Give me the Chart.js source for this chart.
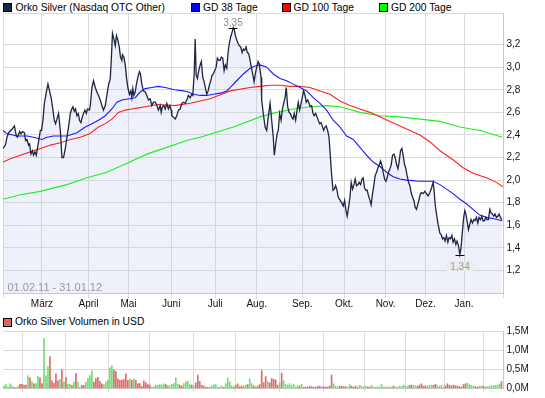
<!DOCTYPE html>
<html>
<head>
<meta charset="utf-8">
<script src="https://cdn.jsdelivr.net/npm/chart.js@4.4.1/dist/chart.umd.min.js"></script>
<style>
  body { margin: 0; background: #fff; width: 545px; height: 398px; position: relative; overflow: hidden; font-family: "Liberation Sans", Arial, sans-serif; }
  .bx { position: absolute; width: 7px; height: 7px; border: 1px solid #000; }
  .tx { position: absolute; font-size: 10.3px; line-height: 12px; color: #000; white-space: nowrap; }
  canvas { position: absolute; left: 0; }
  #kurs { top: 0; }
  #vol { top: 312px; }
</style>
</head>
<body>
<div class="bx" style="left:3px;top:3px;background:#1c2545"></div><div class="tx" style="left:15.5px;top:1.5px">Orko Silver (Nasdaq OTC Other)</div>
<div class="bx" style="left:191px;top:3px;background:#0000ff"></div><div class="tx" style="left:203px;top:1.5px">GD 38 Tage</div>
<div class="bx" style="left:282px;top:3px;background:#ff0000"></div><div class="tx" style="left:293.5px;top:1.5px">GD 100 Tage</div>
<div class="bx" style="left:379px;top:3px;background:#00ff00"></div><div class="tx" style="left:391px;top:1.5px">GD 200 Tage</div>
<div class="bx" style="left:3px;top:318px;background:#e06464"></div><div class="tx" style="left:15px;top:316px">Orko Silver Volumen in USD</div>

<canvas id="kurs" width="545" height="312"></canvas>
<canvas id="vol" width="545" height="86"></canvas>

<script>
// Handelstage seit 01.02.11 (x), Kurs in USD (y)
const monthPos = [19.5, 42.8, 62.8, 84.2, 106.2, 127, 149.8, 170.8, 191.5, 211.5, 230.8];
const monthLbl = ['März', 'April', 'Mai', 'Juni', 'Juli', 'Aug.', 'Sep.', 'Okt.', 'Nov.', 'Dez.', 'Jan.'];
const priceTicks = [1.2, 1.4, 1.6, 1.8, 2.0, 2.2, 2.4, 2.6, 2.8, 3.0, 3.2];
const volTicks = [0, 0.5, 1.0, 1.5];
const dateRange = '01.02.11 - 31.01.12';

const priceX = [0,1.2,2,2.8,4.5,5.7,6.7,7.3,8.3,9,9.7,10.7,11.3,12,12.8,13.3,14,14.7,15.3,16,16.7,17.3,18,18.7,19.3,20,20.7,21.7,22.5,23.3,24.2,25,25.7,26.3,27,27.8,28.7,29.5,30.3,31.2,32,32.8,33.7,34.2,35,35.7,36.3,37,37.7,38.3,39,39.7,40.3,41,41.7,42.3,43.3,43.7,44.5,45.3,46.2,47,47.8,48.7,49.5,50.3,51.2,52,52.8,53.7,54.2,54.8,55.5,56.2,56.8,57.5,58.2,58.8,59.5,59.8,60.5,61.2,61.8,62.5,63.3,64,64.5,65,65.5,66.2,66.7,67.5,68.3,68.8,69.5,70.3,71.2,72,72.8,73.7,74.5,75.3,76.2,77,77.8,78.7,79.2,79.8,80.5,81.2,82,82.8,83.5,84.2,84.5,85.3,86.2,87,87.8,88.7,89.5,90.3,91.2,92,92.8,93.7,94.5,95,95.7,96.2,96.7,97.3,98,98.7,99.3,100,100.7,101.3,102,102.7,103.3,104,104.7,105.3,106,106.7,107.3,108,108.7,109.3,110,110.7,111.3,112,112.8,113.3,114,114.7,115.3,115.8,116.3,117,117.7,118.3,119,119.7,120.3,121,121.7,122.3,123,123.7,124.3,125,125.7,126.3,127,127.7,128.3,128.7,129.2,129.5,130.3,131.2,132,132.8,133.7,134.5,135.3,135.8,136.5,137.2,137.8,138.5,139.2,139.8,140.5,141.2,141.8,142.5,143.2,143.8,144.5,145.2,145.8,146.5,147.2,147.8,148.5,149.2,149.8,150.5,151.2,151.8,152.5,153.2,153.8,154.5,155.2,155.8,156.5,157.2,157.8,158.5,159.2,159.8,160.5,161.2,161.8,162.5,163.2,163.8,164.5,165.2,165.8,166.5,167.2,167.8,168.5,169.5,170.3,171,171.7,172.3,173,173.7,174.3,175,175.7,176.3,177,177.7,178.3,179,179.7,180.3,181,181.7,182.3,183,183.7,184.3,185,185.7,186.3,187,187.7,188.3,189,189.7,190.3,191,191.7,192.3,193,193.7,194.3,195,195.7,196.3,197,197.7,198.3,199,199.7,200.3,201,201.7,202.3,203,203.7,204.3,205,205.7,206.3,207,207.7,208.3,209,209.5,210.3,211.2,212,212.8,213.7,214.5,215.3,215.8,216.3,217,217.8,218.7,219.3,220,220.7,221.3,222,222.7,223.3,224,224.7,225.3,226,226.7,227.3,228,228.7,229.3,230,230.7,231.2,231.7,232.3,233,233.7,234.3,235,235.7,236.3,237,237.7,238.3,239,239.7,240.3,241,241.7,242.3,243,243.7,244.3,245,245.7,246.3,247,247.7,248.3,249,249.7];
const priceY = [2.28,2.31,2.38,2.42,2.45,2.48,2.39,2.38,2.43,2.41,2.43,2.42,2.35,2.36,2.31,2.32,2.23,2.26,2.22,2.25,2.22,2.29,2.36,2.44,2.44,2.53,2.68,2.78,2.85,2.79,2.72,2.62,2.53,2.50,2.54,2.59,2.44,2.20,2.20,2.28,2.38,2.47,2.59,2.62,2.65,2.61,2.63,2.57,2.59,2.53,2.51,2.56,2.59,2.62,2.59,2.63,2.62,2.66,2.82,2.88,2.82,2.78,2.75,2.71,2.66,2.62,2.66,2.75,2.84,2.90,3.06,3.30,3.25,3.19,3.28,3.24,3.18,3.09,3.06,3.11,3.09,3.02,2.91,2.82,2.76,2.79,2.73,2.81,2.75,2.78,2.84,2.91,2.96,2.94,2.85,2.79,2.78,2.75,2.71,2.72,2.66,2.69,2.69,2.66,2.62,2.66,2.60,2.65,2.66,2.63,2.68,2.63,2.66,2.62,2.57,2.56,2.54,2.57,2.62,2.63,2.68,2.69,2.68,2.71,2.75,2.73,2.76,2.75,2.94,3.25,2.93,2.90,2.97,3.02,3.05,2.91,2.87,2.82,2.76,2.79,2.84,2.88,2.93,2.94,2.97,3.00,3.08,3.06,3.06,3.09,3.08,2.97,3.02,2.99,3.15,3.21,3.27,3.31,3.35,3.33,3.28,3.24,3.21,3.19,3.18,3.13,3.16,3.15,3.18,3.13,3.12,3.06,3.00,2.94,2.87,2.94,3.00,3.05,3.03,2.97,2.91,2.71,2.59,2.47,2.44,2.56,2.68,2.53,2.38,2.22,2.32,2.41,2.44,2.59,2.53,2.62,2.68,2.73,2.82,2.65,2.60,2.59,2.56,2.54,2.59,2.53,2.62,2.69,2.62,2.68,2.73,2.79,2.75,2.69,2.71,2.68,2.65,2.66,2.59,2.57,2.59,2.56,2.53,2.50,2.51,2.48,2.44,2.47,2.48,2.44,2.38,2.23,2.05,1.91,1.92,1.95,1.91,1.85,1.83,1.80,1.77,1.82,1.73,1.68,1.76,1.85,1.98,1.92,1.96,2.01,1.95,1.96,1.98,1.96,2.01,2.02,1.93,1.91,1.91,1.86,1.82,1.78,1.88,1.96,2.04,2.07,2.11,2.13,2.17,2.13,2.07,2.01,1.99,2.02,2.07,2.10,2.13,2.22,2.23,2.20,2.14,2.10,2.16,2.26,2.28,2.22,2.14,2.10,2.04,1.98,1.95,1.89,1.85,1.82,1.76,1.74,1.79,1.83,1.88,1.89,1.88,1.90,1.88,1.86,1.89,1.93,1.98,1.91,1.79,1.70,1.61,1.53,1.52,1.48,1.49,1.46,1.51,1.45,1.49,1.48,1.51,1.45,1.48,1.43,1.46,1.42,1.34,1.40,1.55,1.68,1.73,1.70,1.64,1.56,1.61,1.65,1.62,1.65,1.64,1.67,1.62,1.67,1.65,1.68,1.64,1.64,1.67,1.65,1.65,1.74,1.71,1.70,1.68,1.70,1.67,1.68,1.70,1.67,1.65];

const gd38X = [0,2,7,12,15.3,19.5,22,25.3,32,37,41.2,44.5,47.8,51.2,54.5,57,59.5,66.2,68.7,71.2,74.5,77.8,81.2,85.8,90.3,92.8,95.3,98.7,102,105.3,108.7,112,113.7,117,120.3,123.7,126.2,128.7,132,135.3,138.7,142,145.3,148.7,152,155.3,158.7,162,165.3,168.7,172,175.3,178.7,182,185.3,188.7,192,195.3,198.7,202,208.7,215.3,218.7,222,225.3,228.7,232,235.3,238.7,242,245.3,250];
const gd38Y = [2.44,2.41,2.39,2.39,2.38,2.36,2.38,2.39,2.39,2.42,2.47,2.50,2.53,2.57,2.63,2.69,2.71,2.73,2.78,2.81,2.82,2.83,2.82,2.80,2.79,2.78,2.76,2.75,2.75,2.76,2.77,2.79,2.82,2.88,2.94,2.99,3.01,3.02,3.00,2.94,2.90,2.88,2.85,2.82,2.79,2.73,2.68,2.62,2.53,2.47,2.39,2.36,2.29,2.22,2.16,2.12,2.07,2.03,2.01,2.00,1.99,1.99,1.96,1.92,1.88,1.83,1.79,1.74,1.69,1.67,1.66,1.64];

const gd100X = [0,3.7,8.7,13.7,18.7,23.7,28.7,33.7,38.7,43.3,47.8,51.2,54.5,57.8,61.2,64.5,67.8,71.2,74.5,77.8,85.8,93.7,103.7,113.7,123.7,128.7,133.7,138.7,143.7,148.7,153.7,158.7,163.7,168.7,173.7,178.7,183.7,188.7,193.7,198.7,203.7,208.7,213.7,218.7,225.3,230.3,235.3,242,247,250.2];
const gd100Y = [2.16,2.19,2.22,2.25,2.28,2.31,2.33,2.36,2.38,2.41,2.47,2.50,2.54,2.60,2.62,2.63,2.64,2.65,2.66,2.67,2.66,2.68,2.72,2.79,2.82,2.83,2.84,2.84,2.83,2.83,2.82,2.79,2.76,2.70,2.66,2.63,2.60,2.56,2.52,2.48,2.44,2.40,2.34,2.26,2.18,2.11,2.06,2.02,1.98,1.94];

const gd200X = [0,8.7,18.7,32,42,52,62,72,82,92,98.7,115.3,128.7,137,145.3,153.7,162,168.7,178.7,188.7,198.7,208.7,218.7,228.7,238.7,250];
const gd200Y = [1.83,1.87,1.90,1.96,2.02,2.07,2.15,2.23,2.29,2.35,2.38,2.47,2.56,2.60,2.63,2.65,2.66,2.65,2.60,2.57,2.56,2.54,2.52,2.47,2.44,2.38];

// Volumen in Tsd. USD je Handelstag, 1 = Kurs gestiegen (grün), 0 = gefallen (rot)
const volK = [70,100,40,120,70,30,20,60,110,110, 90,90,340,280,180,120,130,320,280,130,
  1300,330,570,830,200,140,380,200,240,490, 170,290,110,110,80,170,390,170,40,80,
  80,170,260,340,460,170,260,290,190,120, 100,170,210,540,600,490,440,250,210,220,
  230,380,210,250,210,250,210,130,130,50, 200,150,100,90,40,50,80,80,100,90,
  120,100,80,60,110,130,280,110,90,60, 130,180,190,100,90,60,150,350,190,80,
  60,40,30,40,60,90,110,40,40,70, 30,130,270,180,70,40,80,120,50,60,
  70,90,100,250,130,70,40,60,100,470, 150,310,180,150,260,240,220,90,150,400,
  200,110,90,130,80,100,50,70,60,110, 30,40,40,60,50,30,40,50,60,40,
  50,40,40,60,350,120,70,40,60,60, 50,50,40,100,60,40,60,40,80,60,
  40,60,40,40,80,40,40,50,40,110, 40,50,40,40,40,60,40,40,60,50,
  90,60,50,80,90,80,70,60,90,120, 60,70,60,80,90,80,110,70,60,80,
  40,70,120,80,60,90,70,60,50,40, 100,120,140,100,80,60,50,40,60,60,
  60,40,50,60,70,70,80,90,110,180];
const volUp = [1,1,1,1,1,0,0,1,0,0, 0,0,1,0,1,0,1,1,0,0,
  1,1,1,0,0,0,0,0,1,0, 1,0,1,1,0,1,0,1,1,0,
  0,1,1,1,1,0,0,0,0,0, 1,1,1,1,1,0,0,0,0,0,
  0,0,0,1,0,1,0,0,0,0, 0,0,0,0,1,1,1,1,1,1,
  1,0,1,1,1,1,1,1,0,0, 1,1,1,1,0,1,0,0,0,0,
  0,0,0,1,1,1,1,1,1,1, 0,1,1,1,1,0,0,0,0,0,
  1,1,0,1,1,0,0,0,0,0, 0,0,1,0,0,0,0,0,1,0,
  1,1,1,1,1,1,1,1,0,1, 0,0,0,0,0,0,0,0,0,0,
  0,0,0,0,0,1,1,1,0,0, 0,0,1,1,0,0,0,1,1,1,
  1,1,0,0,1,1,1,1,1,1, 1,1,1,1,1,0,1,1,1,1,
  1,1,1,0,0,1,1,0,0,0, 0,0,1,1,1,0,0,1,1,1,
  1,0,0,0,0,0,0,0,0,0, 0,0,1,1,1,1,0,0,1,1,
  0,0,1,1,1,1,1,1,1,0];

const xMax = 250.3;
const gridCol = '#dadada';
const axisFont = { family: '"Liberation Sans", Arial, sans-serif', size: 10 };
const de = (v, d) => v.toFixed(d).replace('.', ',');
const pts = (xs, ys) => xs.map((x, i) => ({ x: x, y: ys[i] }));

function monthTicks(scale) {
  scale.ticks = [0, ...monthPos, xMax].map(v => ({ value: v }));
}
function monthLabel(v, i) {
  return (i > 0 && i <= monthLbl.length) ? monthLbl[i - 1] : '';
}

// Hoch/Tief-Markierung und Zeitraum
const marks = {
  id: 'marks',
  afterDatasetsDraw(chart) {
    const { ctx, scales: { x, y }, chartArea } = chart;
    const hi = priceY.indexOf(Math.max(...priceY));
    const lo = priceY.indexOf(Math.min(...priceY));
    ctx.save();
    ctx.font = '10px "Liberation Sans", Arial, sans-serif';
    ctx.textAlign = 'center';
    ctx.strokeStyle = '#000';
    ctx.lineWidth = 1;

    let px = Math.round(x.getPixelForValue(priceX[hi])), py = Math.round(y.getPixelForValue(priceY[hi])) + 0.5;
    ctx.beginPath(); ctx.moveTo(px - 4.5, py); ctx.lineTo(px + 4.5, py); ctx.stroke();
    ctx.fillStyle = '#8a8a8a';
    ctx.textBaseline = 'alphabetic';
    ctx.fillText(de(priceY[hi], 2), px, py - 3);

    px = Math.round(x.getPixelForValue(priceX[lo])); py = Math.round(y.getPixelForValue(priceY[lo])) + 0.5;
    ctx.beginPath(); ctx.moveTo(px - 4.5, py); ctx.lineTo(px + 4.5, py); ctx.stroke();
    ctx.fillStyle = '#ececec';
    ctx.fillRect(px - 14, py + 5.5, 27, 10);
    ctx.fillStyle = '#9a9a9a';
    ctx.fillText(de(priceY[lo], 2), px, py + 14.5);

    ctx.textAlign = 'left';
    ctx.font = '11px "Liberation Sans", Arial, sans-serif';
    ctx.fillStyle = '#999';
    ctx.fillText(dateRange, chartArea.left + 4.5, chartArea.bottom - 2.3);
    ctx.restore();
  }
};

new Chart(document.getElementById('kurs'), {
  type: 'line',
  data: {
    datasets: [
      { data: pts(priceX, priceY), borderColor: '#1d2540', borderWidth: 1.3, fill: 'start', backgroundColor: 'rgba(190,200,235,0.25)' },
      { data: pts(gd38X, gd38Y), borderColor: '#1a1aff', borderWidth: 1.1, fill: false },
      { data: pts(gd100X, gd100Y), borderColor: '#ff2222', borderWidth: 1.1, fill: false },
      { data: pts(gd200X, gd200Y), borderColor: '#22ee22', borderWidth: 1.1, fill: false }
    ]
  },
  options: {
    responsive: false,
    animation: false,
    parsing: false,
    elements: { point: { radius: 0 }, line: { tension: 0 } },
    layout: { padding: { top: 13, left: 3, right: 0, bottom: 0 } },
    plugins: { legend: { display: false }, tooltip: { enabled: false }, filler: { drawTime: 'beforeDatasetsDraw' } },
    scales: {
      x: {
        type: 'linear', min: 0, max: xMax, offset: false,
        afterBuildTicks: monthTicks,
        afterFit: s => { s.height = 19; },
        grid: { color: gridCol, tickLength: 5 },
        border: { color: '#c8c8c8' },
        ticks: { callback: monthLabel, autoSkip: false, maxRotation: 0, padding: 0, color: '#111', font: axisFont }
      },
      y: {
        type: 'linear', position: 'right', min: 1.0, max: 3.48,
        afterBuildTicks: s => { s.ticks = [1.0, ...priceTicks, 3.48].map(v => ({ value: v })); },
        afterFit: s => { s.width = 42; },
        grid: { color: gridCol, drawTicks: false },
        border: { color: '#c8c8c8' },
        ticks: { callback: (v, i) => (i > 0 && i <= priceTicks.length) ? de(priceTicks[i - 1], 1) : '', padding: 3.5, color: '#111', font: axisFont }
      }
    }
  },
  plugins: [marks]
});

new Chart(document.getElementById('vol'), {
  type: 'bar',
  data: {
    datasets: [{
      data: volK.map((v, i) => ({ x: i + 0.5, y: v / 1000 })),
      backgroundColor: volUp.map(u => u ? '#6ee06e' : '#e06a6a'),
      barThickness: 1
    }]
  },
  options: {
    responsive: false,
    animation: false,
    parsing: false,
    layout: { padding: { top: 19, left: 3, right: 0, bottom: 0 } },
    plugins: { legend: { display: false }, tooltip: { enabled: false } },
    scales: {
      x: {
        type: 'linear', min: 0, max: xMax, offset: false,
        afterBuildTicks: monthTicks,
        afterFit: s => { s.height = 5; },
        grid: { color: gridCol, tickLength: 4 },
        border: { color: '#c8c8c8' },
        ticks: { display: false }
      },
      y: {
        type: 'linear', position: 'right', min: 0, max: 1.5,
        afterBuildTicks: s => { s.ticks = volTicks.map(v => ({ value: v })); },
        afterFit: s => { s.width = 42; },
        grid: { color: gridCol, drawTicks: false },
        border: { color: '#c8c8c8' },
        ticks: { callback: (v, i) => de(volTicks[i], 1) + 'M', padding: 3.5, color: '#111', font: axisFont }
      }
    }
  }
});
</script>
</body>
</html>
